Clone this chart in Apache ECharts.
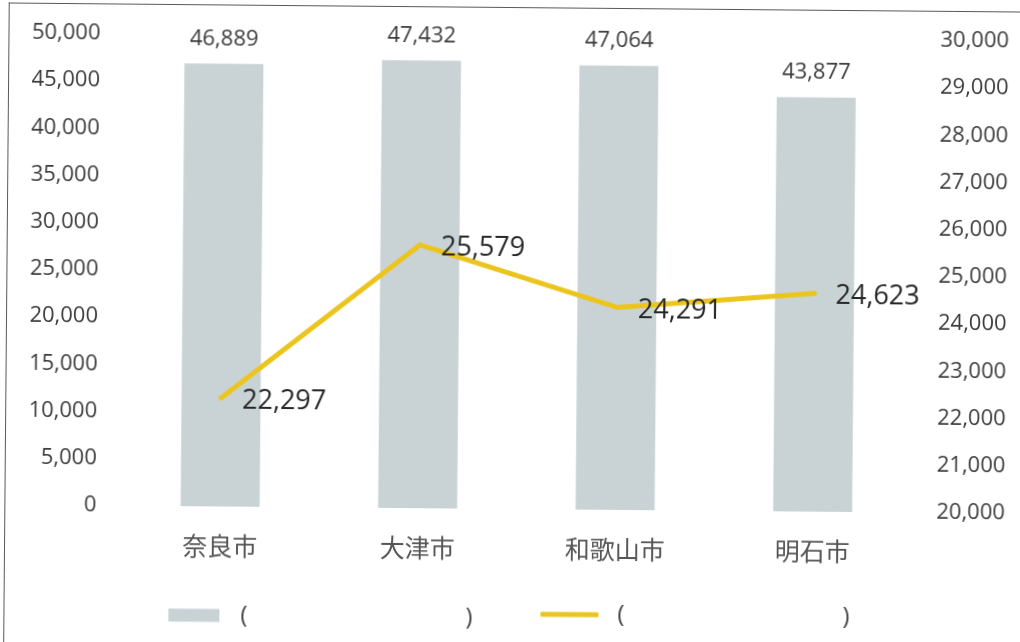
<!DOCTYPE html>
<html>
<head>
<meta charset="utf-8">
<script src="https://cdn.jsdelivr.net/npm/echarts@6/dist/echarts.min.js"></script>
<style>
  html, body { margin: 0; padding: 0; background: #fff; overflow: hidden; }
  #page {
    position: absolute; left: 0; top: 0; width: 1020px; height: 642px;
    transform: rotate(0.5deg); transform-origin: 510px 321px;
  }
  #frame {
    position: absolute; left: 6px; top: 7px; width: 1040px; height: 660px;
    border-left: 1.5px solid #5a5a5a; border-top: 1.5px solid #5a5a5a;
  }
  #chart { position: absolute; left: 0; top: 0; width: 1020px; height: 642px; }
</style>
</head>
<body>
<div id="page">
  <div id="frame"></div>
  <div id="chart"></div>
</div>
<script>
// Cities along the x axis
const cities = ['奈良市', '大津市', '和歌山市', '明石市'];
// Bar series (left axis)
const barValues = [46889, 47432, 47064, 43877];
// Line series (right axis)
const lineValues = [22297, 25579, 24291, 24623];
// Axis ranges
const leftAxis = { min: 0, max: 50000, step: 5000 };
const rightAxis = { min: 20000, max: 30000, step: 1000 };

const withCommas = v => String(v).replace(/\B(?=(\d{3})+(?!\d))/g, ',');

const FONT = "'Open Sans', 'Noto Sans', sans-serif";
const CJK = "'Noto Sans CJK JP', sans-serif";
const BAR_COLOR = '#c9d3d5';
const LINE_COLOR = '#ebc51e';

const chart = echarts.init(document.getElementById('chart'), null, { renderer: 'canvas' });

const legendText = (gap) => ({
  formatter: () => '{s| }{a|(}{b|)}',
  textStyle: {
    rich: {
      s: { width: gap, fontSize: 24, fontFamily: FONT },
      a: { width: 225, fontSize: 24, color: '#444', fontFamily: FONT },
      b: { fontSize: 24, color: '#444', fontFamily: FONT }
    }
  }
});

chart.setOption({
  animation: false,
  backgroundColor: 'transparent',
  grid: { left: 123, right: 107, top: 37, bottom: 133, containLabel: false },
  legend: [
    Object.assign({
      data: ['bars'], left: 171, top: 606, icon: 'rect',
      itemWidth: 51, itemHeight: 13, padding: 0
    }, legendText(16)),
    Object.assign({
      data: ['line'], left: 543, top: 602, icon: 'roundRect',
      itemWidth: 58, itemHeight: 5, padding: 0
    }, legendText(14))
  ],
  xAxis: {
    type: 'category',
    data: cities,
    axisLine: { show: false },
    axisTick: { show: false },
    axisLabel: { margin: 27, fontSize: 25, color: '#555', fontFamily: CJK }
  },
  yAxis: [
    {
      type: 'value', min: leftAxis.min, max: leftAxis.max, interval: leftAxis.step,
      splitLine: { show: false }, axisLine: { show: false }, axisTick: { show: false },
      axisLabel: { margin: 25, fontSize: 22, color: '#3c3c3c', fontFamily: FONT, formatter: withCommas }
    },
    {
      type: 'value', min: rightAxis.min, max: rightAxis.max, interval: rightAxis.step,
      splitLine: { show: false }, axisLine: { show: false }, axisTick: { show: false },
      axisLabel: { margin: 25, fontSize: 22, color: '#3c3c3c', fontFamily: FONT, formatter: withCommas }
    }
  ],
  series: [
    {
      name: 'bars',
      type: 'bar',
      data: barValues,
      barWidth: 79,
      itemStyle: { color: BAR_COLOR },
      label: {
        show: true, position: 'top', distance: 14,
        fontSize: 22, color: '#3c3c3c', fontFamily: FONT,
        formatter: p => withCommas(p.value)
      }
    },
    {
      name: 'line',
      type: 'line',
      yAxisIndex: 1,
      data: lineValues,
      symbol: 'circle',
      symbolSize: 0.1,
      itemStyle: { color: LINE_COLOR },
      lineStyle: { color: LINE_COLOR, width: 5, cap: 'round', join: 'round' },
      label: {
        show: true, position: 'right', distance: 21, offset: [0, 3],
        fontSize: 27, color: '#262626', fontFamily: FONT,
        formatter: p => withCommas(p.value)
      },
      z: 5
    }
  ]
});
</script>
</body>
</html>
